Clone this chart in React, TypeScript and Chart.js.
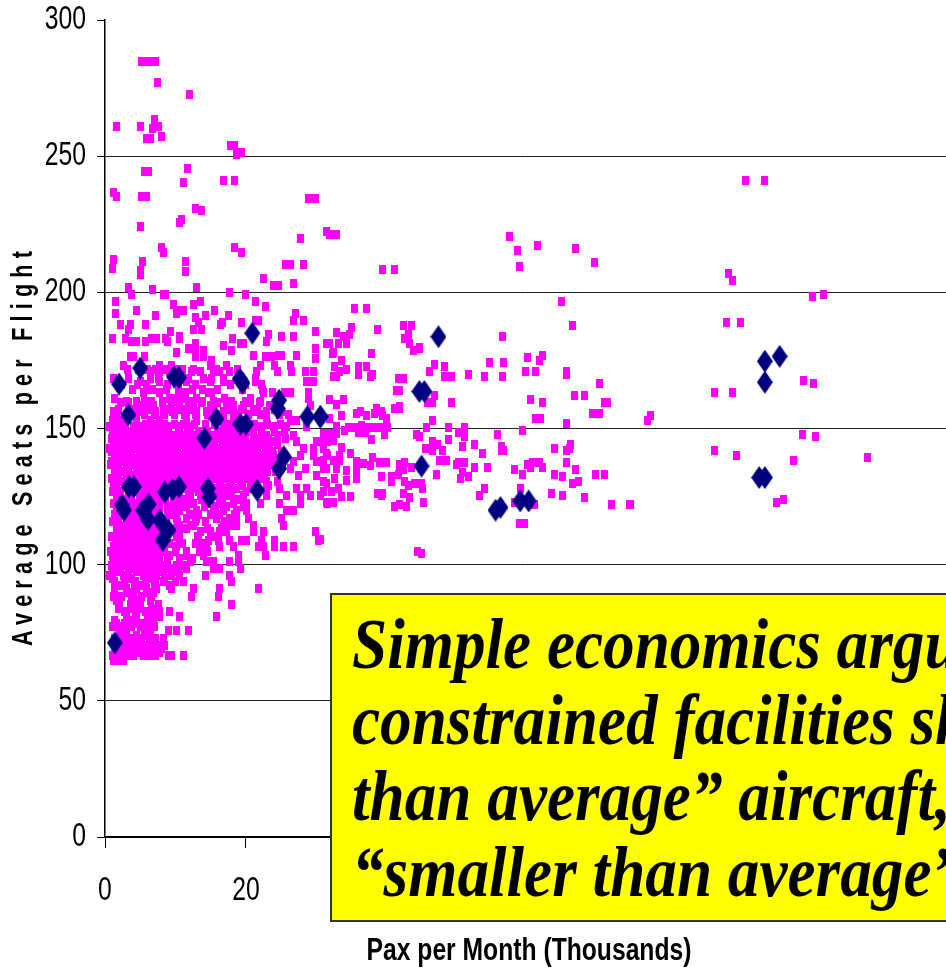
import React, { useEffect, useRef } from "react";
import { Chart, registerables } from "chart.js";

Chart.register(...registerables);

// Routes read individually as [pax (thousands), seats per flight]
const sparseRoutes: number[][] = [
  [90.9,241.1],[93.5,241.1],[88.5,206.9],[89,204.3],[100.3,198.3],[101.9,199.1],[88.2,188.9],[90.2,188.9],[99.1,167.5],[100.5,166.6],[86.4,163.2],[89,163.2],[77.4,154.6],[76.9,152.9],[98.9,147.8],[100.8,146.9],[86.4,141.8],[89.6,140.1],[97.7,138.3],[108.1,139.2],[95.3,122.9],[96.3,123.8],[74.5,122.1],
];
const midRoutes: number[][] = [
  [31.4,222.4],[31.9,221.4],[32.9,221.4],[39.4,208.5],[41.1,208.5],[57.4,220.5],[58.5,215.4],[61.4,217.1],[66.8,216.2],[58.8,209.4],[69.4,211.1],[64.7,196.6],[35.4,194],[37.1,194],[34.9,187.1],[38.7,186.3],[42.3,188],[43.5,188],[32.9,185.4],[43,184.6],[42.5,182.9],[33.8,183.6],[34.7,184.6],[31.4,181.1],[31.9,181.1],[33.1,181.1],[34.3,181.1],[43.2,181.1],[44.6,179.9],[43.7,178.6],[44.6,179.3],[32.3,177.7],[37.8,177.7],[66.3,188],[56.4,183.7],[33.5,175.1],[62.1,176.9],[61.6,175.1],[60,176],[54.5,174.3],[56.6,174.3],[46.8,173.4],[48.2,172.6],[32.6,172.6],[35.9,172.6],[37.1,172.6],[34.3,171.7],[33.3,170.9],[46,170.9],[59.7,170.9],[61.1,170.9],[65.4,170.9],[65.4,169.8],[35.9,170],[38,170],[51.5,170],[53.8,169.1],[56.4,169.1],[32.4,169.1],[32.9,169.1],[37.6,169.1],[48.2,169.1],[49.1,169.1],[41.6,168.3],[42.3,168.3],[70.2,166.6],[41.3,164],[41.8,164],[46.8,162.3],[66.6,162.3],[68,162.3],[60.4,160.6],[31.9,160.6],[33.8,160.6],[45.8,159.7],[46.5,159.7],[49.1,159.7],[62.1,159.7],[70.8,159.7],[71.3,159.7],[32.9,158.9],[41.8,158],[41.1,157.2],[41.8,157.2],[38.5,157.2],[39.2,156.3],[36.2,156.3],[35.7,155.5],[38.3,155.5],[33.6,154.6],[37.1,154.6],[39.4,154.6],[69.2,155.5],[70.1,155.5],[31.9,153.7],[39.9,153.7],[61.1,153.7],[61.8,153.7],[46.5,152.9],[65.4,152],[32.9,150.6],[34.5,150.3],[35.5,150.3],[36.4,151.2],[37.4,150.3],[38.3,150.3],[39.2,150.3],[40.1,150.3],[45.6,150.3],[48.7,150.3],[51,150.3],[34,149.4],[35.9,148.6],[36.9,148.6],[50.1,148.6],[51,148.6],[59.2,149.4],[55.7,147.7],[44.2,147.7],[44.6,146.9],[37.8,146],[39.7,147.7],[48.7,146],[51,146.9],[46.5,145.2],[47.2,144.3],[52.4,144.3],[66.1,144.3],[56.2,143.5],[50.7,143.5],[63.7,142.6],[65.9,142.6],[65.4,141.8],[56.6,141.8],[56.2,141.8],[45.4,142.6],[46.5,141.8],[47.9,141.8],[53.6,140.9],[47.9,138.3],[47.5,138.3],[48.4,138.3],[50.1,137.5],[51,137.5],[42.5,137.5],[39.9,137.5],[39,137.5],[38,139.2],[65.4,137.5],[61.6,137.5],[60.7,137.5],[59.9,136.6],[60.4,135.8],[62.1,135.8],[54.3,135.8],[52.4,135.8],[49.8,136.6],[58.1,134.9],[66.8,134.9],[50.7,134],[47,133.2],[59.2,133.2],[63.7,133.2],[64.9,132.3],[69.6,133.2],[70.8,133.2],[51.5,132.3],[50.5,131.5],[67.1,130.6],[66.3,129.8],[41.8,136.6],[41.8,134.9],[42.3,134.9],[41.6,133.2],[43.5,135.8],[39.2,132.3],[40.6,132.3],[40.6,130.6],[42.5,130.6],[43,128.9],[43.9,129.8],[44.9,129.8],[45.1,128.1],[53.8,128.1],[59,128.1],[53.1,125.5],[63.3,126.3],[64.9,125.5],[68,124.6],[38.7,126.3],[39.4,126.3],[42.3,126.3],[43.2,124.6],[39.2,125.5],[45.2,122.9],[41.8,122.1],[41.1,121.2],[42.7,121.2],[58.1,122.9],[60.9,122.1],[71.8,122.1],[74.4,122.1],[58.8,115.2],[59.5,115.2],[44.4,104.9],[44.9,104.1],[30.5,109.2],
  [31,148.1],[31.9,148.1],[32.9,148.1],[31,145.7],[32.4,145.7],[33.6,143.2],[31.4,140.8],[33.3,140.2],[34.8,140.8],[31,138.3],[32.4,138.3],[33.3,138.3],[35.7,137.7],[36.6,137.1],[31.4,135.3],[32.9,135.3],[34.3,134.7],[35.7,134.7],[37.6,136.5],[34.3,131],[35.7,131.6],[32.6,131.6],[31.4,129.8],[33.1,127.9],[31,126.7],[32.2,126.7],[33.6,124.9],[34.8,124.9],[31.4,123],[32.4,123],
];
const upperRoutes: number[][] = [
  [5.2,284.8],[5.7,284.8],[6.3,284.8],[7.1,284.8],[7.5,277.1],[12,272.8],[1.6,260.8],[5,260.8],[7,263.4],[6.8,260],[7.6,260.8],[8,257.4],[5.9,256.5],[6.4,256.5],[17.8,254],[18.4,254],[19.4,251.4],[18.7,250.5],[5.6,244.5],[6.2,244.5],[11.7,245.4],[11.1,240.3],[16.8,241.1],[18.3,241.1],[1.2,236.8],[1.6,235.1],[5.2,235.1],[5.9,235.1],[28.9,234.3],[29.8,234.3],[12.8,230.8],[13.7,230],[10.9,226.6],[10.6,225.7],[5,224],[27.7,219.7],[8,216.4],[8.3,214.6],[18.3,216.3],[19.4,214.6],[1.2,212],[1,208.6],[5.3,211.2],[5,208.1],[5,206.6],[11.4,211.2],[11.4,207.7],[25.6,210.3],[26.3,210.3],[28.2,210.3],[22.5,205.2],[23.9,202.6],[24.6,202.6],[26.7,203.4],[3.3,201.7],[3.7,199.2],[6.7,200.9],[8.3,199.2],[8.6,199.2],[13,201.7],[17.7,200],[19.9,199.2],[21.3,196.6],[22.7,194.9],[9.7,195.7],[12.6,195.7],[13.5,196.5],[10.6,193.2],[10.2,192.3],[11.1,193.2],[15.5,193.2],[1.5,196.6],[1.5,192.3],[4.5,193.2],[7.1,191.5],[14.2,191.5],[17.5,191.5],[12.8,190.6],[13.3,188.9],[27,192.3],[28.1,189.7],[26.7,189.7],[2.2,188.1],[3.6,188.1],[5.7,188.1],[3.3,186.3],[16.6,188.9],[16.4,188.1],[19.4,188.9],[21.3,189.7],[21.8,189.7],[12.6,186.3],[13.7,186.3],[9.3,185.5],[1,182.9],[2.9,182.9],[3.8,182],[4.5,182],[5.7,182],[6.6,182.9],[7.3,182.9],[8.6,182.9],[8.8,182],[10.5,183.8],[10.6,182.9],[18.1,182.9],[19.2,181.2],[19.6,181.2],[23.2,184.6],[22.9,182],[25.1,183.8],[26.7,183.8],[29.8,185.5],[29.8,179.5],[31.4,181.2],[10.1,177.8],[11.9,179.5],[12.8,181.2],[12.8,179.5],[16.8,180.3],[18,178.6],[14,178.6],[32.4,177.8],[21.1,176.9],[22.7,176.3],[23.6,176.3],[24.6,176.9],[25.1,176.9],[27.2,176.9],[29.8,175.7],[3.6,176.3],[4,176.3],[5.6,176.3],[12.8,176.3],[14,176.3],[15.1,175.1],
];

// Dense cluster, read row by row: seats of each row, then the pax of the routes in that row
const denseSeats: number[] = [
  173.2,170.8,168.3,167.1,163.4,161,158.5,156.1,153,150.6,147.5,145.1,142.6,140.2,137.8,135.3,132.9,130.4,128,125.5,122.5,120,117,114.5,112,109,106.6,103.5,101.1,98.6,96.2,93.7,91.3,88.2,85.2,82.7,80.9,78.4,76,74.1,71.7,69.2,66.8,64.8,
];
const densePax: number[][] = [
  [2.6,7.8,9.5,14.9,17.3,22,24.1,26.3],
  [6.4,7.8,9.2,12.3,13.5,15.4,16.3,17.7,21.5,24.4,26.5,28.4,29.6],
  [1.2,3.3,6.4,7.6,11.8,14,15.1,16.8,21.3],
  [5,7.8,11.6,14.9,16.8,21.3,28.6,29.6],
  [5.4,7.8,11.4,14.7,15.1,22.5,23.7,25.5,26.3,28.9],
  [1.4,9.2,10.2,11.1,13,17,20.6,28.9],
  [4.5,5.4,6.9,10.6,12.5,14.9,17.3,18.2,19.6,23.4,29.1],
  [1.2,5,7.1,8.3,9.6,11.6,13,14.4,16.8,18.2,21,22.9,25.1],
  [1,2.1,4.5,6.4,7.8,11.6,13,16.8,18.2,20.1,22.9,26.3,27.2],
  [0.7,1.7,2.6,4,5,6.4,7.6,8.8,10.6,12.1,16.8,18.2,19.6,21,22,23.9,25.8,28.6],
  [1.2,2.6,4,6.2,7.3,8.3,9.7,11.1,12.5,15.4,16.8,18.2,19.6,21,22.9,24.4,26.7],
  [2.1,3.3,5.4,6.9,8.3,9.7,11.1,12.5,14,15.4,16.8,18.2,19.6,21.5,22.9,23.9,27.2,30,31.5],
  [0.7,1.9,3.1,4.5,5.9,7.3,8.8,10.2,11.6,13,14.4,15.8,17.3,18.7,20.1,21.5,22.9,28.1,29.6,31],
  [1.4,2.1,3.6,5,6.4,7.8,9.2,10.6,12.1,13.5,14.9,16.3,17.7,19.2,20.6,22,23.9,27.7,29.6,31.5],
  [0.9,1.8,2.6,4,5.4,6.9,8.3,9.7,11.1,12.5,14,15.4,16.8,18.2,19.6,21,22.5,23.9,26.7,30],
  [1.7,3.1,4.5,5.9,7.3,8.8,10.2,11.6,13,14.4,15.8,17.3,18.7,20.1,21.5,22.9,24.4,26.3,28.4,31],
  [4,5,6.4,7.8,9.2,10.6,12.1,13.5,14.9,16.3,17.7,19.2,21,22.5,27.5,30],
  [1.2,2.6,5.4,6.9,8.3,9.7,11.6,13,14.9,16.3,17.7,19.2,20.6,22.9,24.4,31],
  [1.2,5.9,11.1,12.5,15.8,17.3,18.7,20.6,22.9,24.8,27.2,28.6],
  [1.7,5.4,7.3,12.1,13.5,15.8,17.7,19.6,22.9,25.8,27.7,29.1,30.5],
  [1.2,4,7.1,10.2,12.5,14.4,16.3,18.2,20.1,22,24.8,27.7,31.5],
  [4,7.3,10.6,13,15.4,16.8,18.7,20.1,25.8,26.7],
  [1.4,3.6,4.5,6.9,10.2,11.6,13,15.8,17.7,18.7,20.3,25.1],
  [2.1,4,5.4,10.6,12.1,12.5,16.8,17.7,18.7,21,25.3],
  [1.7,3.6,5,6.9,10.6,13.5,14.9,16.3,17.3,21,22.5,29.8],
  [1.7,3.3,4.7,6.4,10.6,13.3,14.7,16.1,17.7,19.4,20.1,22.2,24.1,30.3],
  [1.2,2.6,4.5,6.4,8.5,10.2,13.5,14.4,16.3,18.2,21.8,22.5,24.1,25.3,26.7],
  [1,2.1,3.6,5,6.4,7.8,9.2,11.6,14,19,22.7],
  [1.2,2.6,4,5.4,6.9,8.8,10.6,12.1,14.4,15.4,17.7,19],
  [1,2.1,4,5.4,7.3,9.2,10.4,11.6,15.4,16.3,19.2],
  [0.7,2.6,5.4,6.4,7.3,9.5,10.6,14.2,17.7],
  [1.4,2.8,4.3,5.7,7.1,8.3,10,11.1,18],
  [1.4,3.1,4.5,5.9,7.3,9.5,12.5,16.3,21.8],
  [1.2,2.4,3.8,5.2,6.6,12.3,16.1],
  [2.1,3.6,5,7.6,18],
  [2.8,4.3,5.7,7.1,7.8,9.2],
  [3.1,4.5,6.4,7.8,10.6,15.8],
  [1.7,2.8,4,5.2,6.6],
  [6.4,9,10.2,11.8],
  [3.1,4.5,2,5.6],
  [2.4,3.8,5.2,6.4,1.5],
  [2.4,3.8,5.2,8,2.2],
  [1,2.6,4,5.4,7.1,9,9.5,11.1,3.2,6.2],
  [1.2,2.6,1.8],
];

// Routes that close the solid part of the cluster
const fillSeats: number[] = [
  171.5,166,164.5,160,159.5,157,155,151.5,149,146.3,144,141.4,139,136.6,134.1,131.6,129.2,126.8,124,121.2,118.5,115.7,113.2,110.5,107.8,105,102.3,99.8,97.4,94.9,92.5,89.7,86.7,84,79.6,77.2,72.9,70.4,67.9,
];
const fillPax: number[][] = [
  [3.2,4.8,6,7.2,8.4,10,11,12.6,15.8,18.8],
  [2.4,4.6,5.9,8.9,12.9,17.8,19.9,22.2],
  [3.9,5.9,6.8,8.7,10.4,12.4,13.8,16,19.5,22.3],
  [3,4.4,5.6,6.6,8.2,9.9,12,13.9,15.4,18,20,22],
  [2.2,3.4,8.2,9.5,11.9,13.7,15.9,20.7,21.9,24.3],
  [1.9,3.5,6,8.9,10.9,12.2,15.4,17.6,19.4,21.7,24],
  [1.6,3,4.3,5.6,7,8.4,9.9,11.3,12.8,14.5,16.2,18.9,20.3,22,24.7,26],
  [1.5,2.9,4.4,5.8,7.1,8.5,9.9,11.2,12.7,14.2,15.6,17.3,19.9,21.2,23,24.9],
  [1,2.2,3.3,4.7,5.6,6.8,8,9,10.4,11.7,13.2,14.6,16,17.5,18.9,20.5,22.2,24,25.5],
  [0.9,1.9,3,3.9,4.8,5.8,6.7,7.7,8.6,9.6,10.5,11.5,12.4,13.4,14.3,15.3,16.2,17.1,18.1,19,20,21,22,23.2,24.4,25.6],
  [1.2,2.2,3.2,4.2,5.2,6.2,7.2,8.1,9,10,10.9,11.9,12.8,13.8,14.7,15.6,16.6,17.6,18.5,19.4,20.4,21.3,22.2,23.4,24.4],
  [0.9,2.1,2.9,3.8,4.9,5.6,6.6,7.5,8.5,9.4,10.3,11.4,12.2,13.2,14.2,15,16,17,17.9,18.9,19.8,20.7,21.7,22.7,23.7,25],
  [1.3,2.3,3.4,4.3,5.2,6.1,7,8,8.9,9.9,10.8,11.8,12.7,13.6,14.6,15.5,16.5,17.4,18.4,19.3,20.3,21.2,22.1,23.1,24.1],
  [0.8,1.9,3,3.8,4.7,5.7,6.6,7.5,8.5,9.5,10.5,11.3,12.3,13.2,14.2,15.1,16,17,17.9,18.9,19.8,20.8,21.8,22.7,23.6,25.2],
  [1.4,2.4,3.4,4.4,5.2,6.2,7.1,8,9,9.9,10.8,11.8,12.7,13.7,14.6,15.6,16.5,17.5,18.4,19.4,20.3,21.2,22.2,23.1,24.2],
  [0.9,1.9,3,3.8,4.8,5.8,6.6,7.5,8.5,9.4,10.4,11.3,12.3,13.2,14.1,15.1,16,17,17.9,18.9,19.9,20.8,21.7,22.6],
  [1.7,2.7,3.7,4.4,5.4,6.2,7.2,8,9,10,11,12,13.5,15,16.4,18,19.5,21.2,23.2],
  [1,2.2,3.3,4.7,5.7,6.6,7.6,8.6,9.6,10.6,11.8,13.2,14.6,16.7,18,19.9,21.7],
  [2,3,3.7,4.9,5.8,6.6,7.6,8.6,9.7,10.7,11.7,13.7,15,16.6,18.4,19.4],
  [1.6,2.9,3.6,4.8,5.7,6.5,7.7,8.8,9.7,10.6,11.6,14.1,15.7,17.3,19.6],
  [1.3,2.2,3,3.9,4.9,5.8,6.8,7.8,8.8,9.6,12,13.3,15,16.2,18.3],
  [1,1.9,3,4.2,5.1,6.1,7,7.9,8.7,10.3,12.8,14.2,17],
  [1.6,2.5,3.5,4.4,5.5,6.3,7.3,8.1,9,10.2,11.5,14.6,16.5],
  [0.9,2,2.9,3.9,4.8,5.7,6.7,7.7,8.6,10.1,13.1,15.7],
  [1.5,2.4,3.3,4.2,5.3,6.2,7.1,8,9.2,11,12.9,14],
  [0.8,1.7,2.8,3.7,4.6,5.4,6.3,7.2,8.2,10,11.6,13.4,14.5],
  [1.4,2.4,3.2,4.3,5.1,6,7,7.8,8.9,10.5,12.4],
  [0.9,1.9,2.9,3.9,4.7,5.7,6.6,7.6,8.6,10.2,11.2],
  [1.5,2.2,3.3,4.4,5,6.2,7.2,8.3,9.9],
  [1,2.9,3.8,5.7,6.7,8.4],
  [1.4,2.3,4.2,5.2,7,9.1],
  [1.3,3.3,4.1,6,6.9],
  [1.6,3.7,4.5,6.4],
  [1.9,3.8,4.7,6.6],
  [1.4,3.3,4.3,6,6.9],
  [1.1,1.9,2.9,3.7,5,6,7],
  [1.3,2.6,3.4,4.3,5.2,6.3,7.2,8.3],
  [1.3,2.3,3.1,4.6,5.6,6.6,7.4,8.5],
  [1.4,2,3.4,4.6,5.9,6.9,7.8],
];

const hubPax: number[] = [
  93.6,95.7,93.6,92.8,93.6,30.5,47.3,44.6,45.3,44.9,55.4,56.1,58.9,60.1,5,2,9.8,10.5,19.1,19.5,24.7,24.5,3.3,28.7,30.6,15.8,19.2,20,14.1,25.4,24.7,3.4,4.1,8.5,9.6,10.5,14.6,14.8,21.6,2.4,2.7,5.4,6.2,6.1,7.8,9,8.2,1.4,20.9,
];
const hubSeats: number[] = [
  174.7,176.5,167,132,132,154.3,183.7,163.6,163.6,136.2,120,121,123.4,123.4,172.2,166.3,168.9,168.7,168.3,166.7,160.4,157.3,155,154.3,154.3,153.5,151.6,151.6,146.4,139.6,135.3,128.6,128.6,126.7,127.6,128.6,128,124.9,127.3,121.9,120,120,122.2,116.6,116.3,112.7,109,71.3,185,
];

const yTicksStep = 50;
const xTicksStep = 20;
const calloutLines = ["Simple economics argu", "constrained facilities sh", "than average” aircraft,", "“smaller than average”"];

const routePoints = [
  ...sparseRoutes, ...midRoutes, ...upperRoutes,
  ...densePax.flatMap((row, i) => row.map((p) => [p, denseSeats[i]])),
  ...fillPax.flatMap((row, i) => row.map((p) => [p, fillSeats[i]])),
].map(([x, y]) => ({ x, y }));
const hubPoints = hubPax.map((x, i) => ({ x, y: hubSeats[i] }));

function squareMark(): HTMLCanvasElement {
  const c = document.createElement("canvas");
  c.width = 7; c.height = 9;
  const g = c.getContext("2d")!;
  g.fillStyle = "#FF00FF";
  g.fillRect(0, 0, 7, 9);
  return c;
}
function diamondMark(): HTMLCanvasElement {
  const c = document.createElement("canvas");
  c.width = 16; c.height = 23;
  const g = c.getContext("2d")!;
  g.fillStyle = "#000080";
  g.beginPath();
  g.moveTo(8, 0); g.lineTo(16, 11.5); g.lineTo(8, 23); g.lineTo(0, 11.5);
  g.closePath(); g.fill();
  return c;
}

// No narrow face is installed, so the condensed look of the axis text comes from fillText's maxWidth.
function squeezed(ctx: any, factor: number, draw: () => void) {
  ctx.fillText = function (t: string, x: number, y: number) {
    const w = this.measureText(t).width;
    CanvasRenderingContext2D.prototype.fillText.call(this, t, x, y, w * factor);
  };
  draw();
  delete ctx.fillText;
}

const axisText = {
  id: "axisText",
  afterLayout(chart: any) {
    const { x, y } = chart.scales;
    const ctx = chart.ctx;
    if (y._wrapped) return;
    y._wrapped = true;
    const yTitle = y.drawTitle, xTitle = x.drawTitle, yLabels = y.drawLabels, xLabels = x.drawLabels;
    y.drawTitle = function () {
      ctx.save();
      ctx.translate(0, 17);
      ctx.letterSpacing = "8.6px";
      squeezed(ctx, 0.72, () => yTitle.call(this));
      ctx.restore();
    };
    x.drawTitle = function () {
      ctx.save();
      ctx.translate(3.5, 2);
      squeezed(ctx, 0.796, () => xTitle.call(this));
      ctx.restore();
    };
    y.drawLabels = function (a: any) { squeezed(ctx, 0.75, () => yLabels.call(this, a)); };
    x.drawLabels = function (a: any) { squeezed(ctx, 0.75, () => xLabels.call(this, a)); };
  },
};

const TICK_FONT = { family: "'Liberation Sans'", size: 33 };

export default function App() {
  const ref = useRef<HTMLCanvasElement>(null);
  useEffect(() => {
    const chart = new Chart(ref.current!, {
      type: "scatter",
      data: {
        datasets: [
          { label: "Hubs", data: hubPoints, pointStyle: diamondMark() as any, order: 1, backgroundColor: "#000080", borderColor: "#000080" },
          { label: "Routes", data: routePoints, pointStyle: squareMark() as any, order: 2, backgroundColor: "#FF00FF", borderColor: "#FF00FF" },
        ],
      },
      plugins: [axisText],
      options: {
        animation: false,
        responsive: false,
        devicePixelRatio: 1,
        layout: { autoPadding: false, padding: { top: 20, left: 0, right: 0, bottom: 0 } },
        plugins: { legend: { display: false }, tooltip: { enabled: false } },
        scales: {
          x: {
            type: "linear", min: 0, max: 119.3,
            afterFit: (s: any) => { s.height = 131; s.paddingLeft = 0; s.paddingRight = 0; },
            grid: { drawOnChartArea: false, color: "#000", tickColor: "#000", tickLength: 11, lineWidth: 1 },
            border: { color: "#000", width: 2 },
            ticks: { stepSize: xTicksStep, maxRotation: 0, autoSkip: false, padding: 23, color: "#000", font: TICK_FONT },
            title: { display: true, text: "Pax per Month (Thousands)", color: "#000", padding: 0, font: { family: "'Liberation Sans'", weight: "bold", size: 31 } },
          },
          y: {
            type: "linear", min: 0, max: 300,
            afterFit: (s: any) => { s.width = 105; s.paddingTop = 0; s.paddingBottom = 0; },
            grid: {
              color: (c: any) => (c.tick && c.tick.value === 300 ? "rgba(0,0,0,0)" : "#222"),
              tickColor: "#000", tickLength: 8, lineWidth: 1,
            },
            border: { color: "#000", width: 1.5 },
            ticks: { stepSize: yTicksStep, padding: 11, color: "#000", font: TICK_FONT },
            title: { display: true, text: "Average Seats per Flight", color: "#000", padding: { top: 6, bottom: 0 }, font: { family: "'Liberation Sans'", weight: "bold", size: 30 } },
          },
        },
      },
    } as any);
    return () => chart.destroy();
  }, []);
  return (
    <div style={{ position: "fixed", left: 0, top: 0, width: 946, height: 968, overflow: "hidden", background: "#fff" }}>
      <canvas ref={ref} width={946} height={968} style={{ display: "block" }} />
      <div style={{ position: "absolute", left: 330, top: 593, width: 640, height: 329, boxSizing: "border-box", background: "#FFFF00", border: "2px solid #333" }}>
        {calloutLines.map((t, i) => (
          <div key={t} style={{ position: "absolute", left: 20, top: 11 + i * 76, lineHeight: "76px", whiteSpace: "nowrap", fontFamily: "'Liberation Serif'", fontWeight: "bold", fontStyle: "italic", fontSize: 72, color: "#000", transform: "scaleX(0.878)", transformOrigin: "left center" }}>{t}</div>
        ))}
      </div>
    </div>
  );
}
